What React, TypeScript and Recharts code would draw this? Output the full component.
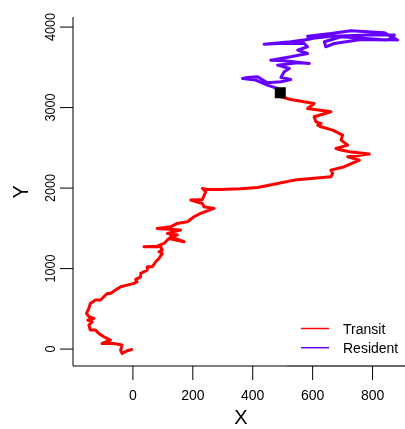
import React from "react";
import {
  ComposedChart,
  Line,
  Scatter,
  XAxis,
  YAxis,
  ReferenceLine,
  Customized,
} from "recharts";

const seriesNames = ["Transit", "Resident"];
const seriesColors = ["#FF0000", "#6600FF"];
const xTicks = [0, 200, 400, 600, 800];
const yTicks = [0, 1000, 2000, 3000, 4000];
const xTitle = "X";
const yTitle = "Y";

const transitX = [0, -19, -36, -41, -36, -64, -103, -75, -97, -114, -125, -142, -147, -136, -151, -130, -147, -155, -147, -142, -125, -108, -97, -86, -75, -58, -41, -19, 3, 14, 9, 26, 26, 48, 48, 65, 76, 87, 98, 87, 98, 93, 37, 81, 104, 120, 171, 126, 148, 115, 159, 81, 126, 148, 182, 204, 226, 271, 237, 232, 193, 232, 243, 232, 249, 293, 360, 416, 483, 539, 661, 667, 661, 706, 756, 717, 789, 723, 695, 678, 717, 695, 700, 667, 628, 617, 628, 611, 605, 661, 583, 605, 527, 494, 492];
const transitY = [0, -21, -54, -12, 50, 70, 70, 112, 153, 195, 236, 236, 298, 339, 360, 381, 402, 443, 505, 567, 609, 609, 650, 691, 691, 733, 774, 795, 816, 836, 865, 898, 940, 981, 1023, 1023, 1085, 1126, 1188, 1209, 1230, 1271, 1271, 1279, 1312, 1374, 1333, 1395, 1416, 1437, 1478, 1499, 1519, 1561, 1581, 1644, 1685, 1747, 1768, 1809, 1851, 1859, 1954, 1995, 1983, 1983, 1991, 2008, 2058, 2099, 2140, 2182, 2223, 2265, 2347, 2389, 2422, 2451, 2472, 2492, 2534, 2596, 2658, 2720, 2761, 2782, 2803, 2823, 2886, 2948, 2989, 3051, 3101, 3134, 3184];

const residentX = [492, 483, 449, 410, 366, 382, 416, 449, 494, 527, 494, 505, 522, 483, 550, 589, 505, 460, 527, 583, 550, 583, 572, 483, 438, 527, 583, 628, 583, 661, 728, 840, 884, 828, 739, 695, 639, 644, 672, 762, 851, 873, 784, 661, 594, 527];
const residentY = [3184, 3237, 3279, 3341, 3362, 3374, 3382, 3308, 3320, 3349, 3374, 3444, 3486, 3527, 3556, 3548, 3581, 3589, 3631, 3672, 3714, 3755, 3796, 3796, 3788, 3817, 3846, 3879, 3887, 3920, 3954, 3929, 3838, 3846, 3867, 3879, 3817, 3755, 3796, 3846, 3838, 3900, 3900, 3887, 3858, 3796];

const markerX = [492];
const markerY = [3184];

const transit = transitX.map((x, i) => ({ x, y: transitY[i] }));
const resident = residentX.map((x, i) => ({ x, y: residentY[i] }));
const marker = markerX.map((x, i) => ({ x, y: markerY[i] }));

const X_DOMAIN: [number, number] = [-200, 925];
const Y_DOMAIN: [number, number] = [-210, 4125];
const FONT = "'Liberation Sans', Arial, sans-serif";

const XTick = (props: any) => {
  const { x, y, payload } = props;
  return (
    <text x={x} y={y} dy={18} textAnchor="middle" fontSize={14} fontFamily={FONT} fill="#000">
      {payload.value}
    </text>
  );
};

const YTick = (props: any) => {
  const { x, y, payload } = props;
  return (
    <g transform={`translate(${x},${y}) scale(1,0.9) rotate(-90)`}>
      <text x={0} y={0} textAnchor="middle" fontSize={14} fontFamily={FONT} fill="#000">
        {payload.value}
      </text>
    </g>
  );
};

const SquareShape = (props: any) => {
  const { cx, cy } = props;
  return <rect x={cx - 5.5} y={cy - 5.5} width={11} height={11} fill="#000" />;
};

const Annotations = () => (
  <g fontFamily={FONT}>
    <text x={233} y={416} textAnchor="middle" fontSize={20} fill="#000">
      {xTitle}
    </text>
    <g transform={`translate(20,184) scale(1,0.9) rotate(-90)`}>
      <text x={0} y={0} textAnchor="middle" fontSize={22} fill="#000">
        {yTitle}
      </text>
    </g>
    {seriesNames.map((name, i) => (
      <g key={name}>
        <line x1={293} x2={321} y1={320.5 + i * 19.2} y2={320.5 + i * 19.2} stroke={seriesColors[i]} strokeWidth={1.5} />
        <text x={335} y={320.5 + i * 19.2} dy={5} fontSize={14} fill="#000">
          {name}
        </text>
      </g>
    ))}
  </g>
);

export default function App() {
  return (
    <div style={{ position: "fixed", left: 8, top: 8, width: 397, height: 421, overflow: "hidden" }}>
      <ComposedChart
        width={412}
        height={421}
        margin={{ top: 9, right: 10, bottom: 0, left: 0 }}
      >
        <XAxis
          xAxisId="top"
          orientation="top"
          type="number"
          dataKey="x"
          domain={X_DOMAIN}
          height={0}
          tick={false}
          tickLine={false}
          axisLine={{ stroke: "#000", strokeWidth: 1 }}
          allowDataOverflow
        />
        <XAxis
          type="number"
          dataKey="x"
          domain={X_DOMAIN}
          ticks={xTicks}
          height={63}
          tickSize={14}
          tickMargin={2}
          tick={<XTick />}
          tickLine={{ stroke: "#000", strokeWidth: 1 }}
          axisLine={{ stroke: "#000", strokeWidth: 1 }}
          allowDataOverflow
        />
        <YAxis
          type="number"
          dataKey="y"
          domain={Y_DOMAIN}
          ticks={yTicks}
          width={65}
          tickSize={13}
          tickMargin={5}
          tick={<YTick />}
          tickLine={{ stroke: "#000", strokeWidth: 1 }}
          axisLine={{ stroke: "#000", strokeWidth: 1 }}
          allowDataOverflow
        />
        <Line
          data={transit}
          dataKey="y"
          type="linear"
          stroke={seriesColors[0]}
          strokeWidth={3}
          dot={false}
          activeDot={false}
          isAnimationActive={false}
          strokeLinejoin="round"
        />
        <Line
          data={resident}
          dataKey="y"
          type="linear"
          stroke={seriesColors[1]}
          strokeWidth={3}
          dot={false}
          activeDot={false}
          isAnimationActive={false}
          strokeLinejoin="round"
        />
        <Scatter data={marker} dataKey="y" shape={<SquareShape />} isAnimationActive={false} />
        <ReferenceLine
          segment={[{ x: 514, y: Y_DOMAIN[0] }, { x: X_DOMAIN[1], y: Y_DOMAIN[0] }]}
          stroke="#c8c8c8"
          strokeWidth={1.5}
          ifOverflow="visible"
        />
        <Customized component={Annotations} />
      </ComposedChart>
    </div>
  );
}
